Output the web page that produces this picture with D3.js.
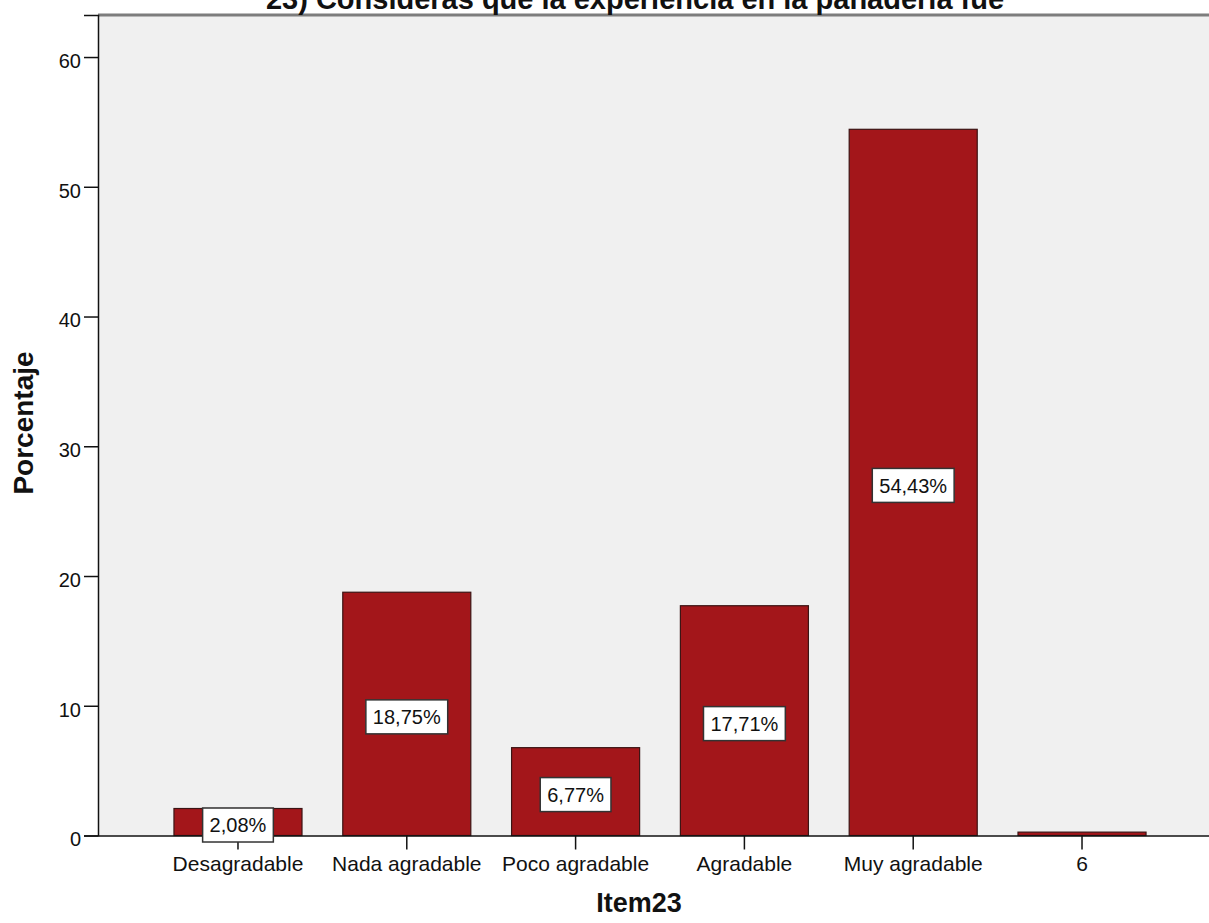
<!DOCTYPE html>
<html>
<head>
<meta charset="utf-8">
<script src="https://cdn.jsdelivr.net/npm/d3@7"></script>
<style>
  html, body { margin: 0; padding: 0; background: #ffffff; }
  svg { display: block; }
  text { font-family: "Liberation Sans", Arial, sans-serif; fill: #111; }
</style>
</head>
<body>
<svg id="chart" width="1209" height="923"></svg>
<script>
// Item23 response categories and their percentages
const categories = ["Desagradable", "Nada agradable", "Poco agradable", "Agradable", "Muy agradable", "6"];
const percentages = [2.08, 18.75, 6.77, 17.71, 54.43, 0.26];
const valueLabels = ["2,08%", "18,75%", "6,77%", "17,71%", "54,43%", null];
const yTicks = [0, 10, 20, 30, 40, 50, 60];

const chartTitle = "23) Consideras que la experiencia en la panadería fue";
const xTitle = "Item23";
const yTitle = "Porcentaje";

const svg = d3.select("#chart");
const plot = { left: 98, top: 15, right: 1222, bottom: 835.5 };

const x = d3.scaleBand()
  .domain(categories)
  .range([plot.left, plot.right])
  .paddingInner(0.2415)
  .paddingOuter(0.45);

const y = d3.scaleLinear()
  .domain([0, 63.24])
  .range([plot.bottom, plot.top]);

// plot background
svg.append("rect")
  .attr("x", plot.left).attr("y", plot.top)
  .attr("width", plot.right - plot.left)
  .attr("height", plot.bottom - plot.top)
  .attr("fill", "#f0f0f0");

// top frame line
svg.append("line")
  .attr("x1", plot.left).attr("x2", plot.right)
  .attr("y1", plot.top).attr("y2", plot.top)
  .attr("stroke", "#7d7d7d").attr("stroke-width", 3);

// bars
const data = categories.map((c, i) => ({ c, v: percentages[i], label: valueLabels[i] }));

svg.append("g").selectAll("rect")
  .data(data)
  .join("rect")
  .attr("x", d => x(d.c))
  .attr("y", d => y(d.v))
  .attr("width", x.bandwidth())
  .attr("height", d => y(0) - y(d.v))
  .attr("fill", "#a3161a")
  .attr("stroke", "#3b1414")
  .attr("stroke-width", 1.2);

// y axis
const yAxis = svg.append("g")
  .attr("transform", `translate(${plot.left},0)`)
  .call(d3.axisLeft(y).tickValues(yTicks).tickSize(14).tickPadding(3).tickFormat(d3.format("d")));
yAxis.select(".domain").attr("stroke", "#111").attr("stroke-width", 1.5);
yAxis.selectAll(".tick line").attr("stroke", "#111").attr("stroke-width", 1.5);
yAxis.selectAll(".tick text")
  .attr("font-size", 20).attr("dy", "0.72em").attr("y", -4)
  .style("font-family", '"Liberation Sans", Arial, sans-serif').attr("fill", "#111");

// x axis
const xAxis = svg.append("g")
  .attr("transform", `translate(0,${plot.bottom})`)
  .call(d3.axisBottom(x).tickSize(14).tickPadding(7).tickSizeOuter(0));
xAxis.select(".domain").attr("stroke", "#111").attr("stroke-width", 1.5);
xAxis.selectAll(".tick line").attr("stroke", "#111").attr("stroke-width", 1.5);
xAxis.selectAll(".tick text")
  .attr("font-size", 21)
  .style("font-family", '"Liberation Sans", Arial, sans-serif').attr("fill", "#111");

// value labels inside bars
const labels = svg.append("g").selectAll("g")
  .data(data.filter(d => d.label))
  .join("g")
  .attr("transform", d => `translate(${x(d.c) + x.bandwidth() / 2},${y(d.v / 2) + 3})`);

labels.append("rect").attr("class", "box")
  .attr("fill", "#ffffff").attr("stroke", "#333").attr("stroke-width", 1.5);

labels.append("text")
  .attr("text-anchor", "middle")
  .attr("dy", "0.36em")
  .attr("font-size", 20)
  .text(d => d.label);

labels.each(function () {
  const g = d3.select(this);
  const w = g.select("text").node().getComputedTextLength() + 14;
  g.select("rect.box")
    .attr("x", -w / 2).attr("y", -17)
    .attr("width", w).attr("height", 34);
});

// titles
svg.append("text")
  .attr("x", 635).attr("y", 9)
  .attr("text-anchor", "middle")
  .attr("font-size", 29).attr("font-weight", "bold")
  .text(chartTitle);

svg.append("text")
  .attr("x", 639).attr("y", 912)
  .attr("text-anchor", "middle")
  .attr("font-size", 27).attr("font-weight", "bold")
  .text(xTitle);

svg.append("text")
  .attr("transform", "translate(33,423) rotate(-90)")
  .attr("text-anchor", "middle")
  .attr("font-size", 28).attr("font-weight", "bold")
  .text(yTitle);
</script>
</body>
</html>
